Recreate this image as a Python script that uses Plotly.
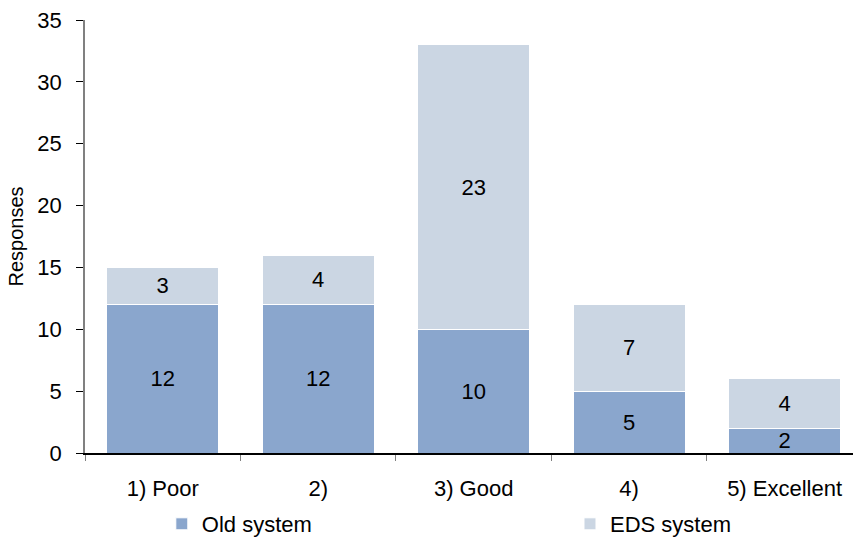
import plotly.graph_objects as go

categories = ["1) Poor", "2)", "3) Good", "4)", "5) Excellent"]
old_system = [12, 12, 10, 5, 2]
eds_system = [3, 4, 23, 7, 4]
y_ticks = [0, 5, 10, 15, 20, 25, 30, 35]

FONT = "Liberation Sans, Arial, sans-serif"

fig = go.Figure()
fig.add_trace(go.Bar(
    x=categories, y=old_system, name="Old system", legend="legend",
    marker=dict(color="#8aa6cd", line=dict(color="white", width=1)),
    text=old_system, textposition="inside", insidetextanchor="middle",
    textangle=0, textfont=dict(size=22, color="black", family=FONT),
    constraintext="none", width=0.72,
))
fig.add_trace(go.Bar(
    x=categories, y=eds_system, name="EDS system", legend="legend2",
    marker=dict(color="#cbd6e3", line=dict(color="white", width=1)),
    text=eds_system, textposition="inside", insidetextanchor="middle",
    textangle=0, textfont=dict(size=22, color="black", family=FONT),
    constraintext="none", width=0.72,
))

legend_style = dict(
    orientation="h", xanchor="left", y=-0.164, yanchor="middle",
    font=dict(size=22, family=FONT), itemwidth=30,
    bgcolor="rgba(0,0,0,0)",
)

fig.update_layout(
    barmode="stack",
    width=853, height=542,
    margin=dict(l=85, r=0, t=20, b=89, autoexpand=False),
    paper_bgcolor="white", plot_bgcolor="white",
    font=dict(family=FONT, size=21, color="black"),
    uniformtext=dict(minsize=22, mode="show"),
    showlegend=True,
    legend=dict(x=0.1, **legend_style),
    legend2=dict(x=0.6315, **legend_style),
    xaxis=dict(
        type="category", range=[-0.5, 4.44],
        showline=True, linecolor="black", linewidth=1.5,
        ticks="outside", tickson="boundaries", ticklen=6, tickcolor="#808080",
        ticklabelstandoff=15,
        tickfont=dict(size=22), showgrid=False,
    ),
    yaxis=dict(
        range=[0, 35], tickvals=y_ticks,
        showline=True, linecolor="#808080", linewidth=1.5,
        ticks="outside", ticklen=7, tickcolor="black",
        ticklabelstandoff=10,
        tickfont=dict(size=22), showgrid=False, zeroline=False,
        title=dict(text="Responses", font=dict(size=20), standoff=8),
    ),
)

fig.write_html("out.html")
